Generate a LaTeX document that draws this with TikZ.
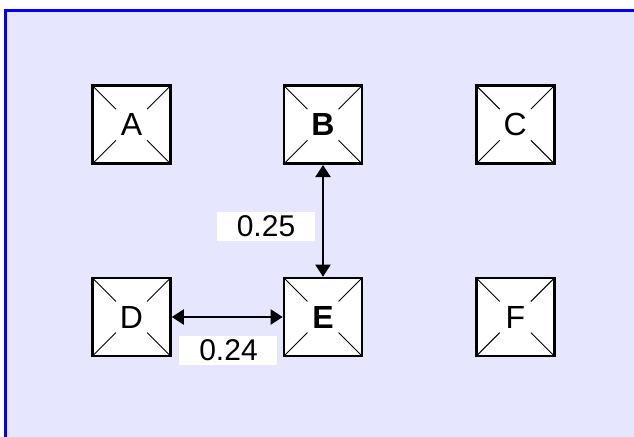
\documentclass[tikz,border=0pt]{standalone}
\usepackage{fontspec}
\setmainfont{Liberation Sans}
\usetikzlibrary{arrows.meta, calc}

\definecolor{panel}{RGB}{230,230,255}
\definecolor{rim}{RGB}{0,0,255}

\begin{document}
\begin{tikzpicture}[
  x=0.5pt, y=-0.5pt,
  font=\fontsize{15}{18}\selectfont,
  sq/.style={draw, line width=1.3pt, fill=white, minimum size=39pt,
             inner sep=0pt, font=\fontsize{16}{19}\selectfont, path picture={
    \foreach \c in {north west, north east, south west, south east}
      \draw[line width=0.5pt] (path picture bounding box.\c) --
        ($(path picture bounding box.\c)!0.6!(path picture bounding box.center)$);
  }},
  lbl/.style={fill=white, minimum width=49pt, minimum height=14.5pt,
              inner sep=0pt},
  arr/.style={{Triangle[length=6pt,width=7.5pt]}-{Triangle[length=6pt,width=7.5pt]},
              line width=1pt}
]
\useasboundingbox (0,0) rectangle (634,436);
\clip (0,0) rectangle (634,436);
\draw[rim, fill=panel, line width=1.5pt] (6,10) rectangle (650,450);

\node[sq] (A) at (131.5,124.7) {A};
\node[sq] (B) at (323,124.7) {\bfseries B};
\node[sq] (C) at (515.3,124.7) {C};
\node[sq] (D) at (131.5,317) {D};
\node[sq] (E) at (323,317) {\bfseries E};
\node[sq] (F) at (515.3,317) {F};

\draw[arr] (B) -- (E);
\draw[arr] (D) -- (E);

\node[lbl] (l25) at (266,226.5) {0.25};
\node[lbl] (l24) at (228.5,350.5) {0.24};
\end{tikzpicture}
\end{document}
